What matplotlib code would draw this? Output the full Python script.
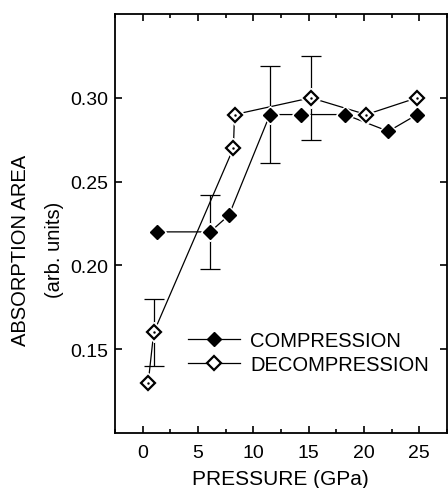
import matplotlib
matplotlib.use("Agg")
import matplotlib.pyplot as plt
from matplotlib.ticker import MultipleLocator

plt.rcParams['font.family'] = ['Liberation Sans', 'DejaVu Sans']

# Compression data
comp_p = [1.3, 6.1, 7.8, 11.5, 14.3, 18.3, 22.2, 24.8]
comp_a = [0.22, 0.22, 0.23, 0.29, 0.29, 0.29, 0.28, 0.29]
comp_err = [0, 0.022, 0, 0.029, 0, 0, 0, 0]

# Decompression data
dec_p = [0.5, 1.0, 8.2, 8.3, 15.2, 20.2, 24.8]
dec_a = [0.13, 0.16, 0.27, 0.29, 0.30, 0.29, 0.30]
dec_err = [0, 0.02, 0, 0, 0.025, 0, 0]

xticks = [0, 5, 10, 15, 20, 25]
yticks = [0.15, 0.20, 0.25, 0.30]

W, H = 448, 489
fig = plt.figure(figsize=(W / 100, H / 100), dpi=100)
ax = fig.add_axes([115 / W, 1 - 434 / H, (447 - 115) / W, (434 - 15) / H])

# error bars (only where non-zero)
for p, a, e in zip(comp_p, comp_a, comp_err):
    if e > 0:
        ax.errorbar([p], [a], yerr=[e], fmt='none', ecolor='black', elinewidth=0.9,
                    capsize=7.5, capthick=0.9, zorder=1)
for p, a, e in zip(dec_p, dec_a, dec_err):
    if e > 0:
        ax.errorbar([p], [a], yerr=[e], fmt='none', ecolor='black', elinewidth=0.9,
                    capsize=7.5, capthick=0.9, zorder=1)

# connecting lines
ax.plot(comp_p, comp_a, '-', color='black', lw=0.9, zorder=2)
ax.plot(dec_p, dec_a, '-', color='black', lw=0.9, zorder=2)
# white halos leave small gaps around the markers
ax.plot(comp_p, comp_a, ls='none', marker='D', ms=9.5, mfc='white', mec='white', zorder=2.5)
ax.plot(dec_p, dec_a, ls='none', marker='D', ms=9.8, mfc='white', mec='white', zorder=2.5)
# markers
ax.plot(comp_p, comp_a, ls='none', marker='D', ms=7, mfc='black', mec='black',
        mew=1.0, zorder=3)
ax.plot(dec_p, dec_a, ls='none', marker='D', ms=7.2, mfc='white', mec='black',
        mew=1.6, zorder=3)
ax.plot(dec_p, dec_a, ls='none', marker='.', ms=1.5, color='black', zorder=4)

# legend proxies
h1, = ax.plot([], [], '-', color='black', lw=0.9, marker='D', ms=7, mfc='black', mec='black')
h2, = ax.plot([], [], '-', color='black', lw=0.9, marker='D', ms=7.2, mfc='white',
              mec='black', mew=1.6)

ax.set_xlim(-2.5, 27.5)
ax.set_ylim(0.10, 0.35)
ax.set_xticks(xticks)
ax.set_xticklabels([str(t) for t in xticks])
ax.xaxis.set_minor_locator(MultipleLocator(2.5))
ax.set_yticks(yticks)
ax.set_yticklabels(['%.2f' % t for t in yticks])

ax.tick_params(which='both', direction='in', top=True, right=True,
               labelsize=14, width=1.2)
ax.tick_params(which='major', length=5)
ax.tick_params(which='minor', length=3)
ax.tick_params(axis='x', pad=8)
ax.tick_params(axis='y', pad=5)
for s in ax.spines.values():
    s.set_linewidth(1.3)

leg = ax.legend([h1, h2], ['COMPRESSION', 'DECOMPRESSION'], loc='center left',
                bbox_to_anchor=(0.22, 0.192), frameon=False,
                fontsize=14.5, handlelength=2.6, handletextpad=0.5,
                labelspacing=0.25, borderaxespad=0, borderpad=0)

fig.text(20 / W, 1 - 250 / H, 'ABSORPTION AREA', rotation=90, ha='center',
         va='center', fontsize=14.5)
fig.text(54 / W, 1 - 250 / H, '(arb. units)', rotation=90, ha='center',
         va='center', fontsize=14.5)
fig.text(280 / W, 1 - 485 / H, 'PRESSURE (GPa)', ha='center', va='baseline',
         fontsize=15)

fig.savefig('out.png', dpi=100)
